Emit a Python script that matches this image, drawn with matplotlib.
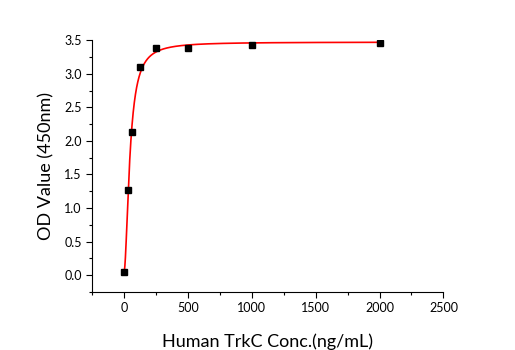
import numpy as np
import matplotlib
matplotlib.use("Agg")
import matplotlib.pyplot as plt
from matplotlib.ticker import MultipleLocator

plt.rcParams["font.family"] = ["Lato", "DejaVu Sans"]

conc = np.array([0, 31.25, 62.5, 125, 250, 500, 1000, 2000])
od = np.array([0.04, 1.27, 2.13, 3.10, 3.39, 3.38, 3.43, 3.46])


def logistic4(x, p):
    a, b, c, d = p
    return d + (a - d) / (1.0 + (np.maximum(x, 1e-9) / c) ** b)


def fit_4pl(x, y, p0, n_iter=200):
    # small Levenberg-Marquardt, no scipy needed
    p = np.array(p0, dtype=float)
    lam = 1e-2
    for _ in range(n_iter):
        r = y - logistic4(x, p)
        J = np.empty((len(x), 4))
        for k in range(4):
            dp = np.zeros(4)
            dp[k] = 1e-6 * max(abs(p[k]), 1.0)
            J[:, k] = (logistic4(x, p + dp) - logistic4(x, p)) / dp[k]
        A = J.T @ J
        step = np.linalg.solve(A + lam * np.diag(np.diag(A)), J.T @ r)
        p_new = p + step
        if np.sum((y - logistic4(x, p_new)) ** 2) < np.sum(r ** 2):
            p, lam = p_new, lam * 0.5
        else:
            lam *= 4
    return p


params = fit_4pl(conc, od, [0.04, 1.5, 50.0, 3.45])
x_fit = np.linspace(0, 2000, 2000)
y_fit = logistic4(x_fit, params)

fig = plt.figure(figsize=(5.15, 3.5), dpi=100)
ax = fig.add_axes([0.179, 0.166, 0.682, 0.719])

ax.plot(x_fit, y_fit, color="red", lw=1.2, zorder=2)
ax.plot(conc, od, "s", color="black", ms=5, zorder=3)

ax.set_xlim(-250, 2500)
ax.set_ylim(-0.25, 3.5)
ax.xaxis.set_major_locator(MultipleLocator(500))
ax.xaxis.set_minor_locator(MultipleLocator(250))
ax.yaxis.set_major_locator(MultipleLocator(0.5))
ax.yaxis.set_minor_locator(MultipleLocator(0.25))
ax.yaxis.set_major_formatter(matplotlib.ticker.FormatStrFormatter("%.1f"))

ax.spines["top"].set_visible(False)
ax.spines["right"].set_visible(False)
ax.tick_params(which="major", direction="out", length=4, width=0.8, labelsize=9)
ax.tick_params(which="minor", direction="out", length=2.5, width=0.8)

ax.set_xlabel("Human TrkC Conc.(ng/mL)", fontsize=13, labelpad=14)
ax.set_ylabel("OD Value (450nm)", fontsize=13, labelpad=7)

fig.savefig("out.png", dpi=100)
